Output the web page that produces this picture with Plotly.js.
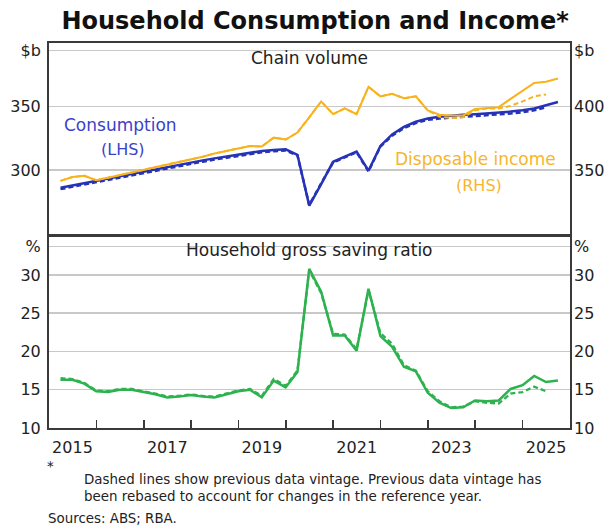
<!DOCTYPE html>
<html>
<head>
<meta charset="utf-8">
<script src="https://cdn.plot.ly/plotly-3.0.1.min.js"></script>
<style>html,body{margin:0;padding:0;background:#fff;}</style>
</head>
<body>
<div id="chart" style="width:613px;height:529px;"></div>
<script>
// Quarterly observations (plotted at quarter end)
var quarters = [
  "2015-03-31","2015-06-30","2015-09-30","2015-12-31",
  "2016-03-31","2016-06-30","2016-09-30","2016-12-31",
  "2017-03-31","2017-06-30","2017-09-30","2017-12-31",
  "2018-03-31","2018-06-30","2018-09-30","2018-12-31",
  "2019-03-31","2019-06-30","2019-09-30","2019-12-31",
  "2020-03-31","2020-06-30","2020-09-30","2020-12-31",
  "2021-03-31","2021-06-30","2021-09-30","2021-12-31",
  "2022-03-31","2022-06-30","2022-09-30","2022-12-31",
  "2023-03-31","2023-06-30","2023-09-30","2023-12-31",
  "2024-03-31","2024-06-30","2024-09-30","2024-12-31",
  "2025-03-31","2025-06-30","2025-09-30"
];
var quartersPrev = quarters.slice(0, 42);

// Household consumption, $b chain volume (LHS)
var consumption = [286, 287.8, 289.6, 291.4, 293.2, 295, 296.8, 298.6, 300.4, 302.5,
  304.5, 306, 307.6, 309.2, 310.8, 312.4, 314, 315, 315.8, 316.3,
  312, 272, 289, 306.5, 310.5, 314.5, 299.5, 319, 328, 334,
  338, 340.5, 342, 343, 343.5, 344, 344.5, 345, 346, 347,
  348.5, 351, 353.5];
var consumptionPrev = [285, 286.8, 288.6, 290.4, 292.2, 294, 295.8, 297.6, 299.4, 301.5,
  303.5, 305, 306.6, 308.2, 309.8, 311.4, 313, 314, 314.8, 315.3,
  311.5, 272.5, 289.5, 306, 310, 314, 299, 318.5, 327, 333,
  337, 339.5, 340.5, 341.5, 342, 342.5, 343, 343.5, 344.5, 345.5,
  347, 349.5];

// Household disposable income, $b chain volume (RHS)
var income = [341.5, 344.5, 345.5, 342, 344, 346, 348, 350, 352, 354,
  356, 358, 360.5, 363, 365, 367.5, 369, 368.5, 375.5, 374,
  379.5, 391.5, 404, 394, 398.5, 394, 415.5, 408, 410, 406.5,
  408, 397, 393.5, 393, 393, 398, 399, 399.5, 406, 412,
  418.5, 419.5, 422];
var incomePrev = [341.5, 344.5, 345.5, 342, 344, 346, 348, 350, 352, 354,
  356, 358, 360.5, 363, 365, 367.5, 369, 368.5, 375.5, 374,
  379.5, 391.5, 404, 394, 398.5, 394, 415.5, 408, 410, 406.5,
  408, 397, 392, 391, 391.5, 397, 398.5, 398.5, 400.5, 404,
  408, 409.5];

// Household gross saving ratio, %
var saving = [16.3, 16.3, 15.8, 14.8, 14.7, 15.0, 15.0, 14.7, 14.4, 14.0,
  14.1, 14.3, 14.1, 14.0, 14.4, 14.8, 15.0, 14.0, 16.2, 15.3,
  17.3, 30.8, 27.8, 22.1, 22.1, 20.1, 28.2, 22.0, 20.6, 18.0,
  17.4, 14.6, 13.3, 12.6, 12.7, 13.6, 13.5, 13.6, 15.1, 15.6,
  16.8, 16.0, 16.2];
var savingPrev = [16.5, 16.4, 15.9, 14.9, 14.8, 15.1, 15.1, 14.8, 14.5, 14.1,
  14.2, 14.4, 14.2, 14.1, 14.5, 14.9, 15.1, 14.2, 16.4, 15.5,
  17.5, 30.6, 27.6, 22.3, 22.2, 20.3, 28.0, 22.4, 21.0, 18.2,
  17.5, 14.8, 13.5, 12.7, 12.8, 13.5, 13.3, 13.2, 14.5, 14.7,
  15.4, 14.8];

// Axis labels
var yearLabels = ["2015", "2017", "2019", "2021", "2023", "2025"];
var yearLabelPos = ["2015-07-01", "2017-07-01", "2019-07-01", "2021-07-01", "2023-07-01", "2025-07-01"];
var yearTicks = ["2016-01-01","2017-01-01","2018-01-01","2019-01-01","2020-01-01",
  "2021-01-01","2022-01-01","2023-01-01","2024-01-01","2025-01-01"];
var lhsTickVals = [300, 350, 394];
var lhsTickText = ["300", "350", "$b"];
var rhsTickVals = [350, 400, 444];
var rhsTickText = ["350", "400", "$b"];
var pctTickVals = [10, 15, 20, 25, 30, 33.7];
var pctTickText = ["10", "15", "20", "25", "30", "%"];

var BLUE = "#2633b6", ORANGE = "#f8b31c", GREEN = "#2db24f";
var FRAME = "#3a3a3a", GRID = "#c8c8c8";
var FONT = "DejaVu Sans, Liberation Sans, Arial, sans-serif";

var traces = [
  {x: quartersPrev, y: incomePrev, xaxis: "x", yaxis: "y2", mode: "lines",
   line: {color: ORANGE, width: 2, dash: "5px,3px"}},
  {x: quartersPrev, y: consumptionPrev, xaxis: "x", yaxis: "y", mode: "lines",
   line: {color: BLUE, width: 2.5, dash: "5px,3px"}},
  {x: quarters, y: income, xaxis: "x", yaxis: "y2", mode: "lines",
   line: {color: ORANGE, width: 2}},
  {x: quarters, y: consumption, xaxis: "x", yaxis: "y", mode: "lines",
   line: {color: BLUE, width: 2.5}},
  {x: quartersPrev, y: savingPrev, xaxis: "x2", yaxis: "y4", mode: "lines",
   line: {color: GREEN, width: 2.3, dash: "5px,3px"}},
  {x: quarters, y: saving, xaxis: "x2", yaxis: "y3", mode: "lines",
   line: {color: GREEN, width: 2.5}}
];

var xRange = ["2015-01-01", "2026-01-01"];
var frameAxis = {showline: true, mirror: true, linecolor: FRAME, linewidth: 2, zeroline: false};

var layout = {
  width: 613, height: 529,
  margin: {l: 49, r: 43, t: 43, b: 101, pad: 0},
  paper_bgcolor: "#ffffff", plot_bgcolor: "#ffffff",
  showlegend: false,
  font: {family: FONT, size: 16, color: "#222222"},
  title: {text: "<b>Household Consumption and Income*</b>", x: 0.514, xanchor: "center",
          y: 1 - 21/529, yanchor: "middle", font: {family: FONT, size: 24, color: "#111111"}},
  xaxis: Object.assign({type: "date", range: xRange, anchor: "y", showticklabels: false,
          ticks: "", showgrid: false}, frameAxis),
  yaxis: Object.assign({domain: [0.505, 1], range: [250, 400], tickmode: "array",
          tickvals: lhsTickVals, ticktext: lhsTickText, ticks: "", ticklabelstandoff: 3,
          showgrid: true, gridcolor: GRID, gridwidth: 1.5}, frameAxis),
  yaxis2: {overlaying: "y", side: "right", anchor: "x", range: [300, 450], tickmode: "array",
          tickvals: rhsTickVals, ticktext: rhsTickText, ticks: "", ticklabelstandoff: 3,
          showgrid: false, zeroline: false, showline: false},
  xaxis2: Object.assign({type: "date", range: xRange, anchor: "y3", tickmode: "array",
          tickvals: yearLabelPos, ticktext: yearLabels, ticks: "", ticklabelstandoff: 4,
          showgrid: false,
          minor: {tickmode: "array", tickvals: yearTicks, ticks: "inside", ticklen: 8,
                  tickwidth: 1.5, tickcolor: FRAME, showgrid: false}}, frameAxis),
  yaxis3: Object.assign({domain: [0, 0.497], range: [10, 35], anchor: "x2", tickmode: "array",
          tickvals: pctTickVals, ticktext: pctTickText, ticks: "", ticklabelstandoff: 3,
          showgrid: true, gridcolor: GRID, gridwidth: 1.5}, frameAxis),
  yaxis4: {overlaying: "y3", side: "right", anchor: "x2", range: [10, 35], tickmode: "array",
          tickvals: pctTickVals, ticktext: pctTickText, ticks: "", ticklabelstandoff: 3,
          showgrid: false, zeroline: false, showline: false},
  annotations: [
    {text: "Chain volume", xref: "paper", yref: "paper", x: 0.5, y: (428-58)/385,
     xanchor: "center", yanchor: "middle", showarrow: false, font: {size: 17, color: "#222"}},
    {text: "Household gross saving ratio", xref: "paper", yref: "paper", x: 0.5, y: (428-250)/385,
     xanchor: "center", yanchor: "middle", showarrow: false, font: {size: 17, color: "#222"}},
    {text: "Consumption", xref: "paper", yref: "paper", x: (120-49)/521, y: (428-125)/385,
     xanchor: "center", yanchor: "middle", showarrow: false, font: {size: 17, color: "#3a42c9"}},
    {text: "(LHS)", xref: "paper", yref: "paper", x: (123-49)/521, y: (428-149)/385,
     xanchor: "center", yanchor: "middle", showarrow: false, font: {size: 16, color: "#3a42c9"}},
    {text: "Disposable income", xref: "paper", yref: "paper", x: (475-49)/521, y: (428-159)/385,
     xanchor: "center", yanchor: "middle", showarrow: false, font: {size: 17, color: "#f7b52e"}},
    {text: "(RHS)", xref: "paper", yref: "paper", x: (479-49)/521, y: (428-185)/385,
     xanchor: "center", yanchor: "middle", showarrow: false, font: {size: 16, color: "#f7b52e"}},
    {text: "*", xref: "paper", yref: "paper", x: (45-49)/521, y: (428-466)/385,
     xanchor: "left", yanchor: "middle", showarrow: false, font: {size: 13.4, color: "#222"}},
    {text: "Dashed lines show previous data vintage. Previous data vintage has", xref: "paper", yref: "paper",
     x: (82-49)/521, y: (428-479)/385, xanchor: "left", yanchor: "middle", showarrow: false,
     font: {size: 13.4, color: "#222"}},
    {text: "been rebased to account for changes in the reference year.", xref: "paper", yref: "paper",
     x: (82-49)/521, y: (428-496)/385, xanchor: "left", yanchor: "middle", showarrow: false,
     font: {size: 13.4, color: "#222"}},
    {text: "Sources: ABS; RBA.", xref: "paper", yref: "paper",
     x: (46-49)/521, y: (428-518)/385, xanchor: "left", yanchor: "middle", showarrow: false,
     font: {size: 13.4, color: "#222"}}
  ]
};

Plotly.newPlot("chart", traces, layout, {staticPlot: true, displayModeBar: false});
</script>
</body>
</html>
